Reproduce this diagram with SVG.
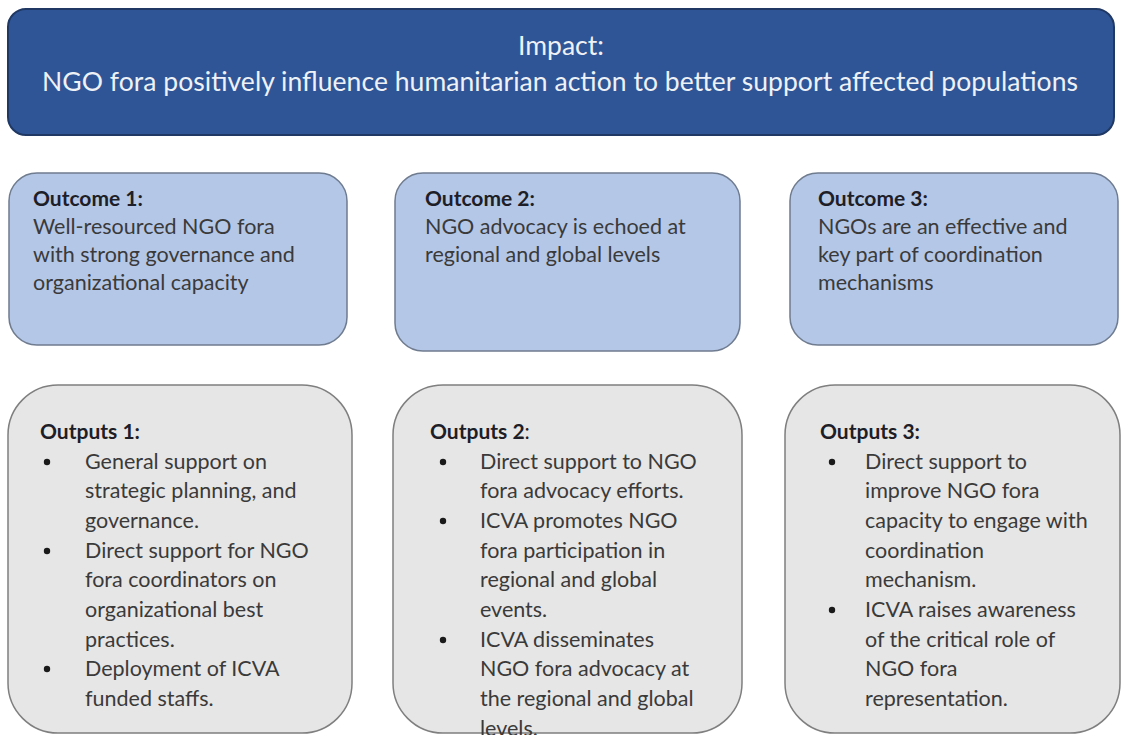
<svg xmlns="http://www.w3.org/2000/svg" width="1126" height="735" viewBox="0 0 1126 735">
  <style>
    .impact-box { fill: #2F5597; stroke: #1F3864; stroke-width: 2; }
    .impact-text { font-family: Lato, "Liberation Sans", sans-serif; font-size: 26.5px; fill: #EEF1F6; text-anchor: middle; }
    .outcome-box { fill: #B4C7E7; stroke: #6F7B8F; stroke-width: 1.5; }
    .output-box { fill: #E7E6E6; stroke: #7F7F7F; stroke-width: 1.5; }
    .head { font-family: Lato, "Liberation Sans", sans-serif; font-size: 21px; font-weight: bold; fill: #1E1E28; }
    .body { font-family: Lato, "Liberation Sans", sans-serif; font-size: 21.5px; fill: #3A3A3A; }
    .bullet { fill: #1A1A1A; }
  </style>
  <rect width="1126" height="735" fill="#FFFFFF"/>

  <!-- Impact banner -->
  <g id="impact">
    <rect class="impact-box" x="8" y="9" width="1106" height="126" rx="18"/>
    <text class="impact-text" x="561" y="55">Impact:</text>
    <text class="impact-text" x="560" y="91" textLength="1036">NGO fora positively influence humanitarian action to better support affected populations</text>
  </g>

  <!-- Outcomes row -->
  <g id="outcome1">
    <rect class="outcome-box" x="9" y="173" width="338" height="172" rx="28"/>
    <text class="head" x="33" y="206">Outcome 1:</text>
    <text class="body" x="33" y="234">Well-resourced NGO fora</text>
    <text class="body" x="33" y="262">with strong governance and</text>
    <text class="body" x="33" y="290">organizational capacity</text>
  </g>
  <g id="outcome2">
    <rect class="outcome-box" x="395" y="173" width="345" height="178" rx="28"/>
    <text class="head" x="425" y="206">Outcome 2:</text>
    <text class="body" x="425" y="234">NGO advocacy is echoed at</text>
    <text class="body" x="425" y="262">regional and global levels</text>
  </g>
  <g id="outcome3">
    <rect class="outcome-box" x="790" y="173" width="328" height="172" rx="28"/>
    <text class="head" x="818" y="206">Outcome 3:</text>
    <text class="body" x="818" y="234">NGOs are an effective and</text>
    <text class="body" x="818" y="262">key part of coordination</text>
    <text class="body" x="818" y="290">mechanisms</text>
  </g>

  <!-- Outputs row -->
  <g id="outputs1">
    <rect class="output-box" x="8" y="385" width="344" height="348" rx="50"/>
    <text class="head" x="40" y="439">Outputs 1:</text>
    <circle class="bullet" cx="47" cy="462" r="3.2"/>
    <text class="body" x="85" y="469">General support on</text>
    <text class="body" x="85" y="498">strategic planning, and</text>
    <text class="body" x="85" y="528">governance.</text>
    <circle class="bullet" cx="47" cy="551" r="3.2"/>
    <text class="body" x="85" y="558">Direct support for NGO</text>
    <text class="body" x="85" y="587">fora coordinators on</text>
    <text class="body" x="85" y="617">organizational best</text>
    <text class="body" x="85" y="647">practices.</text>
    <circle class="bullet" cx="47" cy="669" r="3.2"/>
    <text class="body" x="85" y="676">Deployment of ICVA</text>
    <text class="body" x="85" y="706">funded staffs.</text>
  </g>
  <g id="outputs2">
    <rect class="output-box" x="393" y="385" width="349" height="348" rx="50"/>
    <text class="head" x="430" y="439">Outputs 2<tspan font-weight="normal">:</tspan></text>
    <circle class="bullet" cx="443" cy="462" r="3.2"/>
    <text class="body" x="480" y="469">Direct support to NGO</text>
    <text class="body" x="480" y="498">fora advocacy efforts.</text>
    <circle class="bullet" cx="443" cy="521" r="3.2"/>
    <text class="body" x="480" y="528">ICVA promotes NGO</text>
    <text class="body" x="480" y="558">fora participation in</text>
    <text class="body" x="480" y="587">regional and global</text>
    <text class="body" x="480" y="617">events.</text>
    <circle class="bullet" cx="443" cy="640" r="3.2"/>
    <text class="body" x="480" y="647">ICVA disseminates</text>
    <text class="body" x="480" y="676">NGO fora advocacy at</text>
    <text class="body" x="480" y="706">the regional and global</text>
    <text class="body" x="480" y="736">levels.</text>
  </g>
  <g id="outputs3">
    <rect class="output-box" x="785" y="385" width="335" height="348" rx="50"/>
    <text class="head" x="820" y="439">Outputs 3:</text>
    <circle class="bullet" cx="832" cy="462" r="3.2"/>
    <text class="body" x="865" y="469">Direct support to</text>
    <text class="body" x="865" y="498">improve NGO fora</text>
    <text class="body" x="865" y="528">capacity to engage with</text>
    <text class="body" x="865" y="558">coordination</text>
    <text class="body" x="865" y="587">mechanism.</text>
    <circle class="bullet" cx="832" cy="610" r="3.2"/>
    <text class="body" x="865" y="617">ICVA raises awareness</text>
    <text class="body" x="865" y="647">of the critical role of</text>
    <text class="body" x="865" y="676">NGO fora</text>
    <text class="body" x="865" y="706">representation.</text>
  </g>
</svg>
